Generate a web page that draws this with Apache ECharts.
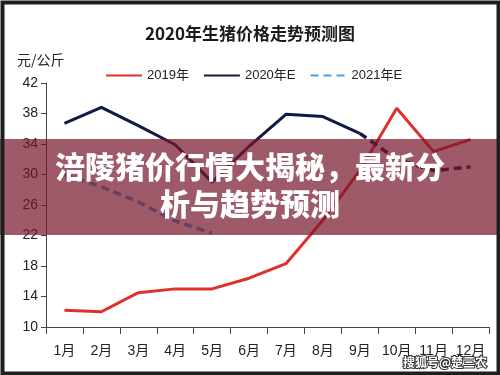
<!DOCTYPE html>
<html><head><meta charset="utf-8">
<script src="https://cdn.jsdelivr.net/npm/echarts@6/dist/echarts.min.js"></script>
<style>html,body{margin:0;padding:0;background:#fff}#c{width:500px;height:375px}</style>
</head><body><div id="c"></div>
<script>
var months = ['1月','2月','3月','4月','5月','6月','7月','8月','9月','10月','11月','12月'];
var price2019 = [12.2, 12.0, 14.5, 15.0, 15.0, 16.4, 18.3, 24.0, 30.5, 38.7, 33.0, 34.6];
var price2020 = [36.7, 38.8, 36.4, 33.9, 29.0, 33.7, 37.9, 37.6, 35.4, null, null, null];
var price2020fc = [null, null, null, null, null, null, null, null, 35.4, 32.0, 30.5, 31.0];
var price2021 = [30.0, 28.4, 26.4, 23.9, 22.3, null, null, null, null, null, null, null];
var yTicks = [10, 14, 18, 22, 26, 30, 34, 38, 42];

var FONT = "'Liberation Sans','Noto Sans CJK SC',sans-serif";
var chart = echarts.init(document.getElementById('c'));
chart.setOption({
  animation: false,
  backgroundColor: '#fff',
  title: {
    text: '2020年生猪价格走势预测图', left: 'center', top: 20,
    textStyle: {fontFamily: "'Noto Sans CJK SC',sans-serif", fontWeight: 'bold', fontSize: 17, color: '#1a1a1a'}
  },
  legend: {
    data: ['2019年', '2020年E', '2021年E'],
    left: 100, top: 64, itemWidth: 36, itemHeight: 12, itemGap: 14,
    itemStyle: {opacity: 0},
    textStyle: {fontFamily: FONT, fontSize: 13, color: '#222'}
  },
  grid: {left: 46, right: 11, top: 83, bottom: 48, containLabel: false},
  xAxis: {
    type: 'category', data: months, boundaryGap: true,
    axisLine: {lineStyle: {color: '#444', width: 1}},
    axisTick: {show: true, length: 7, interval: 0, lineStyle: {color: '#444'}},
    axisLabel: {fontFamily: FONT, fontSize: 14, color: '#222', margin: 17, interval: 0}
  },
  yAxis: {
    type: 'value', min: yTicks[0], max: yTicks[yTicks.length - 1], interval: 4,
    splitLine: {show: false},
    axisLine: {show: true, lineStyle: {color: '#444', width: 1}},
    axisTick: {show: true, length: 5, lineStyle: {color: '#444'}},
    axisLabel: {fontFamily: FONT, fontSize: 14, color: '#222', margin: 8}
  },
  series: [
    {name: '2019年', type: 'line', data: price2019, symbol: 'none', smooth: false,
     lineStyle: {color: '#e0302c', width: 3}, itemStyle: {color: '#e0302c'}, z: 3},
    {name: '2020年E', type: 'line', data: price2020, symbol: 'none', smooth: false,
     lineStyle: {color: '#101a45', width: 3}, itemStyle: {color: '#101a45'}, z: 3},
    {name: '2020年E预测', type: 'line', data: price2020fc, symbol: 'none', smooth: false,
     lineStyle: {color: '#101a45', width: 3.5, type: [8, 5]}, itemStyle: {color: '#101a45'}, z: 3},
    {name: '2021年E', type: 'line', data: price2021, symbol: 'none', smooth: false,
     lineStyle: {color: '#4a9fe0', width: 3.5, type: [8, 5]}, itemStyle: {color: '#4a9fe0'}, z: 3}
  ],
  graphic: [
    {type: 'text', left: 17, top: 53, z: 5,
     style: {text: '元/公斤', fill: '#222', font: "14px 'Noto Sans CJK SC',sans-serif"}},
    {type: 'rect', left: 0, top: 139, z: 50,
     shape: {width: 500, height: 96},
     style: {fill: 'rgba(118,22,44,0.71)'}},
    {type: 'text', z: 51, left: 'center', top: 152,
     style: {text: '涪陵猪价行情大揭秘，最新分', fill: '#fff',
             font: "900 30px 'Noto Sans CJK SC',sans-serif"}},
    {type: 'text', z: 51, left: 'center', top: 189,
     style: {text: '析与趋势预测', fill: '#fff',
             font: "900 30px 'Noto Sans CJK SC',sans-serif"}},
    {type: 'text', z: 52, right: 12, top: 355,
     style: {text: '搜狐号@楚三农', fill: '#fff', stroke: '#333', lineWidth: 2,
             font: "bold 12px 'Noto Sans CJK SC',sans-serif"}},
    {type: 'rect', left: 0, top: 0, z: 60, silent: true,
     shape: {x: 2, y: 2, width: 496, height: 371},
     style: {fill: 'none', stroke: '#1e1e1e', lineWidth: 4}}
  ]
});
</script></body></html>
